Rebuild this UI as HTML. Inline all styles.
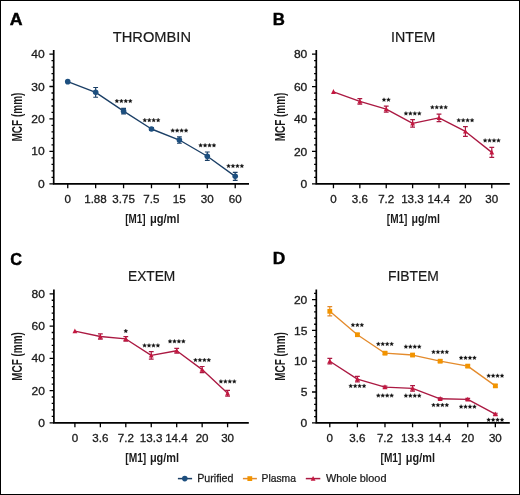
<!DOCTYPE html>
<html><head><meta charset="utf-8"><style>
html,body{margin:0;padding:0;background:#fff;}
body{width:520px;height:495px;overflow:hidden;}
svg{display:block;will-change:transform;}
text{font-family:"Liberation Sans", sans-serif;}
</style></head><body>
<svg width="520" height="495" viewBox="0 0 520 495">
<rect x="0.5" y="0.5" width="519" height="494" fill="#fff" stroke="#000" stroke-width="1"/>
<path d="M53.7 50.0V184.60000000000002M52.900000000000006 183.8H249.0" stroke="#000" stroke-width="1.7" fill="none"/>
<path d="M49.40 183.80H53.7M51.50 177.31H53.7M51.50 170.83H53.7M51.50 164.34H53.7M51.50 157.86H53.7M49.40 151.38H53.7M51.50 144.89H53.7M51.50 138.41H53.7M51.50 131.92H53.7M51.50 125.44H53.7M49.40 118.95H53.7M51.50 112.47H53.7M51.50 105.98H53.7M51.50 99.49H53.7M51.50 93.01H53.7M49.40 86.52H53.7M51.50 80.04H53.7M51.50 73.55H53.7M51.50 67.07H53.7M51.50 60.58H53.7M49.40 54.10H53.7M67.75 183.8V188.20M95.66 183.8V188.20M123.57 183.8V188.20M151.48 183.8V188.20M179.39 183.8V188.20M207.30 183.8V188.20M235.21 183.8V188.20" stroke="#000" stroke-width="1.3" fill="none"/>
<text transform="translate(38.01 187.90) scale(1.0400 1)" font-size="11.6" fill="#1a1a1a" stroke="#1a1a1a" stroke-width="0.3">0</text>
<text transform="translate(31.30 155.47) scale(1.0400 1)" font-size="11.6" fill="#1a1a1a" stroke="#1a1a1a" stroke-width="0.3">10</text>
<text transform="translate(31.30 123.05) scale(1.0400 1)" font-size="11.6" fill="#1a1a1a" stroke="#1a1a1a" stroke-width="0.3">20</text>
<text transform="translate(31.30 90.62) scale(1.0400 1)" font-size="11.6" fill="#1a1a1a" stroke="#1a1a1a" stroke-width="0.3">30</text>
<text transform="translate(31.30 58.20) scale(1.0400 1)" font-size="11.6" fill="#1a1a1a" stroke="#1a1a1a" stroke-width="0.3">40</text>
<text transform="translate(64.52 203.20) scale(1.0000 1)" font-size="11.6" fill="#1a1a1a" stroke="#1a1a1a" stroke-width="0.3">0</text>
<text transform="translate(84.18 203.20) scale(1.0000 1)" font-size="11.6" fill="#1a1a1a" stroke="#1a1a1a" stroke-width="0.3">1.88</text>
<text transform="translate(112.30 203.20) scale(1.0000 1)" font-size="11.6" fill="#1a1a1a" stroke="#1a1a1a" stroke-width="0.3">3.75</text>
<text transform="translate(143.36 203.20) scale(1.0000 1)" font-size="11.6" fill="#1a1a1a" stroke="#1a1a1a" stroke-width="0.3">7.5</text>
<text transform="translate(172.74 203.20) scale(1.0000 1)" font-size="11.6" fill="#1a1a1a" stroke="#1a1a1a" stroke-width="0.3">15</text>
<text transform="translate(200.85 203.20) scale(1.0000 1)" font-size="11.6" fill="#1a1a1a" stroke="#1a1a1a" stroke-width="0.3">30</text>
<text transform="translate(228.69 203.20) scale(1.0000 1)" font-size="11.6" fill="#1a1a1a" stroke="#1a1a1a" stroke-width="0.3">60</text>
<text transform="translate(112.82 41.75) scale(1.0047 1)" font-size="14.6" fill="#1a1a1a" stroke="#1a1a1a" stroke-width="0.2">THROMBIN</text>
<text transform="translate(9.83 24.80) scale(1.0194 1)" font-size="17.4" font-weight="bold" fill="#000" stroke="#000" stroke-width="0.45">A</text>
<text transform="translate(22.30 141.47) rotate(-90) scale(0.6894 1)" font-size="14.5" font-weight="bold" fill="#1a1a1a">MCF (mm)</text>
<text transform="translate(125.25 222.70) scale(0.7430 1)" font-size="13.3" font-weight="bold" fill="#1a1a1a">[M1]</text>
<text transform="translate(149.92 222.70) scale(0.8363 1)" font-size="13.3" font-weight="bold" fill="#1a1a1a">μg/ml</text>
<polyline points="67.75,81.66 95.66,92.36 123.57,111.17 151.48,129.00 179.39,140.03 207.30,156.24 235.21,176.34" fill="none" stroke="#1b3f66" stroke-width="1.35" stroke-linejoin="round"/>
<path d="M95.66 87.50V97.23M93.26 87.50H98.06M93.26 97.23H98.06M123.57 108.41V113.92M121.17 108.41H125.97M121.17 113.92H125.97M151.48 127.70V130.30M149.08 127.70H153.88M149.08 130.30H153.88M179.39 136.78V143.27M176.99 136.78H181.79M176.99 143.27H181.79M207.30 152.02V160.45M204.90 152.02H209.70M204.90 160.45H209.70M235.21 172.29V180.40M232.81 172.29H237.61M232.81 180.40H237.61" stroke="#1b3f66" stroke-width="1.2" fill="none"/>
<circle cx="67.75" cy="81.66" r="2.8" fill="#1d4f7f"/>
<circle cx="95.66" cy="92.36" r="2.8" fill="#1d4f7f"/>
<circle cx="123.57" cy="111.17" r="2.8" fill="#1d4f7f"/>
<circle cx="151.48" cy="129.00" r="2.8" fill="#1d4f7f"/>
<circle cx="179.39" cy="140.03" r="2.8" fill="#1d4f7f"/>
<circle cx="207.30" cy="156.24" r="2.8" fill="#1d4f7f"/>
<circle cx="235.21" cy="176.34" r="2.8" fill="#1d4f7f"/>
<path d="M116.89 99.00L117.48 100.29L118.89 100.45L117.84 101.41L118.12 102.80L116.89 102.10L115.66 102.80L115.94 101.41L114.89 100.45L116.30 100.29ZM121.34 99.00L121.94 100.29L123.34 100.45L122.30 101.41L122.58 102.80L121.34 102.10L120.11 102.80L120.39 101.41L119.34 100.45L120.75 100.29ZM125.80 99.00L126.39 100.29L127.80 100.45L126.75 101.41L127.03 102.80L125.80 102.10L124.56 102.80L124.84 101.41L123.80 100.45L125.20 100.29ZM130.25 99.00L130.84 100.29L132.25 100.45L131.19 101.41L131.47 102.80L130.25 102.10L129.02 102.80L129.30 101.41L128.25 100.45L129.66 100.29Z" fill="#111" stroke="#111" stroke-width="0.3"/>
<path d="M144.81 118.10L145.40 119.39L146.81 119.55L145.75 120.51L146.03 121.90L144.81 121.20L143.58 121.90L143.86 120.51L142.81 119.55L144.22 119.39ZM149.25 118.10L149.84 119.39L151.25 119.55L150.20 120.51L150.48 121.90L149.25 121.20L148.03 121.90L148.31 120.51L147.25 119.55L148.66 119.39ZM153.71 118.10L154.30 119.39L155.71 119.55L154.66 120.51L154.94 121.90L153.71 121.20L152.48 121.90L152.76 120.51L151.71 119.55L153.12 119.39ZM158.16 118.10L158.75 119.39L160.16 119.55L159.10 120.51L159.38 121.90L158.16 121.20L156.93 121.90L157.21 120.51L156.16 119.55L157.56 119.39Z" fill="#111" stroke="#111" stroke-width="0.3"/>
<path d="M172.71 128.50L173.30 129.79L174.71 129.95L173.66 130.91L173.94 132.30L172.71 131.60L171.48 132.30L171.76 130.91L170.71 129.95L172.12 129.79ZM177.16 128.50L177.75 129.79L179.16 129.95L178.11 130.91L178.39 132.30L177.16 131.60L175.93 132.30L176.21 130.91L175.16 129.95L176.57 129.79ZM181.61 128.50L182.20 129.79L183.61 129.95L182.56 130.91L182.84 132.30L181.61 131.60L180.38 132.30L180.66 130.91L179.61 129.95L181.02 129.79ZM186.06 128.50L186.65 129.79L188.06 129.95L187.01 130.91L187.29 132.30L186.06 131.60L184.83 132.30L185.11 130.91L184.06 129.95L185.47 129.79Z" fill="#111" stroke="#111" stroke-width="0.3"/>
<path d="M200.62 143.30L201.22 144.59L202.62 144.75L201.57 145.71L201.85 147.10L200.62 146.40L199.40 147.10L199.68 145.71L198.62 144.75L200.03 144.59ZM205.07 143.30L205.66 144.59L207.07 144.75L206.02 145.71L206.30 147.10L205.07 146.40L203.84 147.10L204.12 145.71L203.07 144.75L204.48 144.59ZM209.53 143.30L210.12 144.59L211.53 144.75L210.47 145.71L210.75 147.10L209.53 146.40L208.30 147.10L208.58 145.71L207.53 144.75L208.94 144.59ZM213.97 143.30L214.56 144.59L215.97 144.75L214.92 145.71L215.20 147.10L213.97 146.40L212.75 147.10L213.03 145.71L211.97 144.75L213.38 144.59Z" fill="#111" stroke="#111" stroke-width="0.3"/>
<path d="M228.53 163.90L229.12 165.19L230.53 165.35L229.48 166.31L229.76 167.70L228.53 167.00L227.31 167.70L227.59 166.31L226.53 165.35L227.94 165.19ZM232.98 163.90L233.57 165.19L234.98 165.35L233.93 166.31L234.21 167.70L232.98 167.00L231.75 167.70L232.03 166.31L230.98 165.35L232.39 165.19ZM237.44 163.90L238.03 165.19L239.44 165.35L238.38 166.31L238.66 167.70L237.44 167.00L236.21 167.70L236.49 166.31L235.44 165.35L236.84 165.19ZM241.88 163.90L242.47 165.19L243.88 165.35L242.83 166.31L243.11 167.70L241.88 167.00L240.66 167.70L240.94 166.31L239.88 165.35L241.29 165.19Z" fill="#111" stroke="#111" stroke-width="0.3"/>
<path d="M316.3 50.0V184.60000000000002M315.5 183.8H509.8" stroke="#000" stroke-width="1.7" fill="none"/>
<path d="M312.00 183.80H316.3M314.10 177.32H316.3M314.10 170.84H316.3M314.10 164.36H316.3M314.10 157.88H316.3M312.00 151.40H316.3M314.10 144.92H316.3M314.10 138.44H316.3M314.10 131.96H316.3M314.10 125.48H316.3M312.00 119.00H316.3M314.10 112.52H316.3M314.10 106.04H316.3M314.10 99.56H316.3M314.10 93.08H316.3M312.00 86.60H316.3M314.10 80.12H316.3M314.10 73.64H316.3M314.10 67.16H316.3M314.10 60.68H316.3M312.00 54.20H316.3M333.45 183.8V188.20M359.84 183.8V188.20M386.23 183.8V188.20M412.62 183.8V188.20M439.01 183.8V188.20M465.40 183.8V188.20M491.79 183.8V188.20" stroke="#000" stroke-width="1.3" fill="none"/>
<text transform="translate(300.61 187.90) scale(1.0400 1)" font-size="11.6" fill="#1a1a1a" stroke="#1a1a1a" stroke-width="0.3">0</text>
<text transform="translate(293.90 155.50) scale(1.0400 1)" font-size="11.6" fill="#1a1a1a" stroke="#1a1a1a" stroke-width="0.3">20</text>
<text transform="translate(293.90 123.10) scale(1.0400 1)" font-size="11.6" fill="#1a1a1a" stroke="#1a1a1a" stroke-width="0.3">40</text>
<text transform="translate(293.90 90.70) scale(1.0400 1)" font-size="11.6" fill="#1a1a1a" stroke="#1a1a1a" stroke-width="0.3">60</text>
<text transform="translate(293.90 58.30) scale(1.0400 1)" font-size="11.6" fill="#1a1a1a" stroke="#1a1a1a" stroke-width="0.3">80</text>
<text transform="translate(330.22 203.20) scale(1.0000 1)" font-size="11.6" fill="#1a1a1a" stroke="#1a1a1a" stroke-width="0.3">0</text>
<text transform="translate(351.81 203.20) scale(1.0000 1)" font-size="11.6" fill="#1a1a1a" stroke="#1a1a1a" stroke-width="0.3">3.6</text>
<text transform="translate(378.16 203.20) scale(1.0000 1)" font-size="11.6" fill="#1a1a1a" stroke="#1a1a1a" stroke-width="0.3">7.2</text>
<text transform="translate(401.14 203.20) scale(1.0000 1)" font-size="11.6" fill="#1a1a1a" stroke="#1a1a1a" stroke-width="0.3">13.3</text>
<text transform="translate(427.45 203.20) scale(1.0000 1)" font-size="11.6" fill="#1a1a1a" stroke="#1a1a1a" stroke-width="0.3">14.4</text>
<text transform="translate(458.88 203.20) scale(1.0000 1)" font-size="11.6" fill="#1a1a1a" stroke="#1a1a1a" stroke-width="0.3">20</text>
<text transform="translate(485.34 203.20) scale(1.0000 1)" font-size="11.6" fill="#1a1a1a" stroke="#1a1a1a" stroke-width="0.3">30</text>
<text transform="translate(390.99 41.70) scale(0.9750 1)" font-size="14.6" fill="#1a1a1a" stroke="#1a1a1a" stroke-width="0.2">INTEM</text>
<text transform="translate(272.80 24.70) scale(0.9659 1)" font-size="17.4" font-weight="bold" fill="#000" stroke="#000" stroke-width="0.45">B</text>
<text transform="translate(284.60 141.37) rotate(-90) scale(0.6880 1)" font-size="14.5" font-weight="bold" fill="#1a1a1a">MCF (mm)</text>
<text transform="translate(386.84 222.70) scale(0.7546 1)" font-size="13.3" font-weight="bold" fill="#1a1a1a">[M1]</text>
<text transform="translate(411.55 222.70) scale(0.8006 1)" font-size="13.3" font-weight="bold" fill="#1a1a1a">μg/ml</text>
<polyline points="333.45,91.78 359.84,101.34 386.23,109.12 412.62,123.37 439.01,117.87 465.40,131.47 491.79,152.37" fill="none" stroke="#ab1942" stroke-width="1.35" stroke-linejoin="round"/>
<path d="M359.84 98.59V104.10M357.44 98.59H362.24M357.44 104.10H362.24M386.23 106.04V112.20M383.83 106.04H388.63M383.83 112.20H388.63M412.62 119.65V127.10M410.22 119.65H415.02M410.22 127.10H415.02M439.01 114.14V121.59M436.61 114.14H441.41M436.61 121.59H441.41M465.40 126.61V136.33M463.00 126.61H467.80M463.00 136.33H467.80M491.79 147.35V157.39M489.39 147.35H494.19M489.39 157.39H494.19" stroke="#ab1942" stroke-width="1.2" fill="none"/>
<path d="M333.45 89.08L335.85 93.88H331.05Z" fill="#c4173f"/>
<path d="M359.84 98.64L362.24 103.44H357.44Z" fill="#c4173f"/>
<path d="M386.23 106.42L388.63 111.22H383.83Z" fill="#c4173f"/>
<path d="M412.62 120.67L415.02 125.47H410.22Z" fill="#c4173f"/>
<path d="M439.01 115.17L441.41 119.97H436.61Z" fill="#c4173f"/>
<path d="M465.40 128.77L467.80 133.57H463.00Z" fill="#c4173f"/>
<path d="M491.79 149.67L494.19 154.47H489.39Z" fill="#c4173f"/>
<path d="M384.00 97.70L384.59 98.99L386.00 99.15L384.95 100.11L385.24 101.50L384.00 100.80L382.77 101.50L383.06 100.11L382.00 99.15L383.42 98.99ZM388.45 97.70L389.04 98.99L390.45 99.15L389.40 100.11L389.69 101.50L388.45 100.80L387.22 101.50L387.50 100.11L386.45 99.15L387.87 98.99Z" fill="#111" stroke="#111" stroke-width="0.3"/>
<path d="M405.94 111.40L406.53 112.69L407.94 112.85L406.89 113.81L407.18 115.20L405.94 114.50L404.71 115.20L405.00 113.81L403.94 112.85L405.36 112.69ZM410.39 111.40L410.98 112.69L412.39 112.85L411.34 113.81L411.62 115.20L410.39 114.50L409.16 115.20L409.44 113.81L408.39 112.85L409.81 112.69ZM414.84 111.40L415.43 112.69L416.84 112.85L415.79 113.81L416.07 115.20L414.84 114.50L413.61 115.20L413.89 113.81L412.84 112.85L414.25 112.69ZM419.30 111.40L419.88 112.69L421.30 112.85L420.25 113.81L420.53 115.20L419.30 114.50L418.06 115.20L418.35 113.81L417.30 112.85L418.71 112.69Z" fill="#111" stroke="#111" stroke-width="0.3"/>
<path d="M432.33 105.20L432.92 106.49L434.33 106.65L433.28 107.61L433.56 109.00L432.33 108.30L431.10 109.00L431.38 107.61L430.33 106.65L431.75 106.49ZM436.78 105.20L437.37 106.49L438.78 106.65L437.73 107.61L438.01 109.00L436.78 108.30L435.55 109.00L435.83 107.61L434.78 106.65L436.19 106.49ZM441.23 105.20L441.82 106.49L443.23 106.65L442.18 107.61L442.46 109.00L441.23 108.30L440.00 109.00L440.28 107.61L439.23 106.65L440.64 106.49ZM445.69 105.20L446.27 106.49L447.69 106.65L446.63 107.61L446.92 109.00L445.69 108.30L444.45 109.00L444.74 107.61L443.69 106.65L445.10 106.49Z" fill="#111" stroke="#111" stroke-width="0.3"/>
<path d="M458.72 118.20L459.31 119.49L460.72 119.65L459.67 120.61L459.95 122.00L458.72 121.30L457.49 122.00L457.77 120.61L456.72 119.65L458.13 119.49ZM463.17 118.20L463.76 119.49L465.17 119.65L464.12 120.61L464.40 122.00L463.17 121.30L461.94 122.00L462.22 120.61L461.17 119.65L462.58 119.49ZM467.62 118.20L468.21 119.49L469.62 119.65L468.57 120.61L468.85 122.00L467.62 121.30L466.39 122.00L466.67 120.61L465.62 119.65L467.03 119.49ZM472.07 118.20L472.66 119.49L474.07 119.65L473.02 120.61L473.31 122.00L472.07 121.30L470.84 122.00L471.12 120.61L470.07 119.65L471.49 119.49Z" fill="#111" stroke="#111" stroke-width="0.3"/>
<path d="M485.11 138.40L485.70 139.69L487.11 139.85L486.06 140.81L486.34 142.20L485.11 141.50L483.88 142.20L484.16 140.81L483.11 139.85L484.52 139.69ZM489.56 138.40L490.15 139.69L491.56 139.85L490.51 140.81L490.79 142.20L489.56 141.50L488.33 142.20L488.61 140.81L487.56 139.85L488.97 139.69ZM494.01 138.40L494.60 139.69L496.01 139.85L494.96 140.81L495.24 142.20L494.01 141.50L492.78 142.20L493.06 140.81L492.01 139.85L493.42 139.69ZM498.46 138.40L499.05 139.69L500.46 139.85L499.41 140.81L499.69 142.20L498.46 141.50L497.23 142.20L497.51 140.81L496.46 139.85L497.88 139.69Z" fill="#111" stroke="#111" stroke-width="0.3"/>
<path d="M53.9 289.5V423.6M53.1 422.8H248.8" stroke="#000" stroke-width="1.7" fill="none"/>
<path d="M49.60 422.80H53.9M51.70 416.35H53.9M51.70 409.90H53.9M51.70 403.45H53.9M51.70 397.00H53.9M49.60 390.55H53.9M51.70 384.10H53.9M51.70 377.65H53.9M51.70 371.20H53.9M51.70 364.75H53.9M49.60 358.30H53.9M51.70 351.85H53.9M51.70 345.40H53.9M51.70 338.95H53.9M51.70 332.50H53.9M49.60 326.05H53.9M51.70 319.60H53.9M51.70 313.15H53.9M51.70 306.70H53.9M51.70 300.25H53.9M49.60 293.80H53.9M74.90 422.8V427.20M100.35 422.8V427.20M125.80 422.8V427.20M151.25 422.8V427.20M176.70 422.8V427.20M202.15 422.8V427.20M227.60 422.8V427.20" stroke="#000" stroke-width="1.3" fill="none"/>
<text transform="translate(38.21 426.90) scale(1.0400 1)" font-size="11.6" fill="#1a1a1a" stroke="#1a1a1a" stroke-width="0.3">0</text>
<text transform="translate(31.50 394.65) scale(1.0400 1)" font-size="11.6" fill="#1a1a1a" stroke="#1a1a1a" stroke-width="0.3">20</text>
<text transform="translate(31.50 362.40) scale(1.0400 1)" font-size="11.6" fill="#1a1a1a" stroke="#1a1a1a" stroke-width="0.3">40</text>
<text transform="translate(31.50 330.15) scale(1.0400 1)" font-size="11.6" fill="#1a1a1a" stroke="#1a1a1a" stroke-width="0.3">60</text>
<text transform="translate(31.50 297.90) scale(1.0400 1)" font-size="11.6" fill="#1a1a1a" stroke="#1a1a1a" stroke-width="0.3">80</text>
<text transform="translate(71.67 442.20) scale(1.0000 1)" font-size="11.6" fill="#1a1a1a" stroke="#1a1a1a" stroke-width="0.3">0</text>
<text transform="translate(92.32 442.20) scale(1.0000 1)" font-size="11.6" fill="#1a1a1a" stroke="#1a1a1a" stroke-width="0.3">3.6</text>
<text transform="translate(117.73 442.20) scale(1.0000 1)" font-size="11.6" fill="#1a1a1a" stroke="#1a1a1a" stroke-width="0.3">7.2</text>
<text transform="translate(139.77 442.20) scale(1.0000 1)" font-size="11.6" fill="#1a1a1a" stroke="#1a1a1a" stroke-width="0.3">13.3</text>
<text transform="translate(165.14 442.20) scale(1.0000 1)" font-size="11.6" fill="#1a1a1a" stroke="#1a1a1a" stroke-width="0.3">14.4</text>
<text transform="translate(195.63 442.20) scale(1.0000 1)" font-size="11.6" fill="#1a1a1a" stroke="#1a1a1a" stroke-width="0.3">20</text>
<text transform="translate(221.15 442.20) scale(1.0000 1)" font-size="11.6" fill="#1a1a1a" stroke="#1a1a1a" stroke-width="0.3">30</text>
<text transform="translate(127.97 281.15) scale(0.9416 1)" font-size="14.6" fill="#1a1a1a" stroke="#1a1a1a" stroke-width="0.2">EXTEM</text>
<text transform="translate(10.36 264.50) scale(0.9362 1)" font-size="17.4" font-weight="bold" fill="#000" stroke="#000" stroke-width="0.45">C</text>
<text transform="translate(22.30 380.77) rotate(-90) scale(0.6865 1)" font-size="14.5" font-weight="bold" fill="#1a1a1a">MCF (mm)</text>
<text transform="translate(125.22 462.20) scale(0.7701 1)" font-size="13.3" font-weight="bold" fill="#1a1a1a">[M1]</text>
<text transform="translate(149.93 462.20) scale(0.8214 1)" font-size="13.3" font-weight="bold" fill="#1a1a1a">μg/ml</text>
<polyline points="74.90,331.21 100.35,336.53 125.80,338.95 151.25,355.40 176.70,350.72 202.15,369.59 227.60,393.29" fill="none" stroke="#ab1942" stroke-width="1.35" stroke-linejoin="round"/>
<path d="M100.35 333.95V339.11M97.95 333.95H102.75M97.95 339.11H102.75M125.80 336.69V341.21M123.40 336.69H128.20M123.40 341.21H128.20M151.25 351.69V359.11M148.85 351.69H153.65M148.85 359.11H153.65M176.70 348.30V353.14M174.30 348.30H179.10M174.30 353.14H179.10M202.15 366.52V372.65M199.75 366.52H204.55M199.75 372.65H204.55M227.60 390.39V396.19M225.20 390.39H230.00M225.20 396.19H230.00" stroke="#ab1942" stroke-width="1.2" fill="none"/>
<path d="M74.90 328.51L77.30 333.31H72.50Z" fill="#c4173f"/>
<path d="M100.35 333.83L102.75 338.63H97.95Z" fill="#c4173f"/>
<path d="M125.80 336.25L128.20 341.05H123.40Z" fill="#c4173f"/>
<path d="M151.25 352.70L153.65 357.50H148.85Z" fill="#c4173f"/>
<path d="M176.70 348.02L179.10 352.82H174.30Z" fill="#c4173f"/>
<path d="M202.15 366.89L204.55 371.69H199.75Z" fill="#c4173f"/>
<path d="M227.60 390.59L230.00 395.39H225.20Z" fill="#c4173f"/>
<path d="M125.80 329.00L126.39 330.29L127.80 330.45L126.75 331.41L127.03 332.80L125.80 332.10L124.57 332.80L124.85 331.41L123.80 330.45L125.21 330.29Z" fill="#111" stroke="#111" stroke-width="0.3"/>
<path d="M144.57 343.40L145.16 344.69L146.57 344.85L145.52 345.81L145.80 347.20L144.57 346.50L143.34 347.20L143.62 345.81L142.57 344.85L143.98 344.69ZM149.02 343.40L149.61 344.69L151.02 344.85L149.97 345.81L150.25 347.20L149.02 346.50L147.79 347.20L148.07 345.81L147.02 344.85L148.43 344.69ZM153.47 343.40L154.06 344.69L155.47 344.85L154.42 345.81L154.70 347.20L153.47 346.50L152.25 347.20L152.53 345.81L151.47 344.85L152.88 344.69ZM157.92 343.40L158.51 344.69L159.92 344.85L158.87 345.81L159.15 347.20L157.92 346.50L156.69 347.20L156.97 345.81L155.92 344.85L157.33 344.69Z" fill="#111" stroke="#111" stroke-width="0.3"/>
<path d="M170.02 339.30L170.61 340.59L172.02 340.75L170.97 341.71L171.25 343.10L170.02 342.40L168.79 343.10L169.07 341.71L168.02 340.75L169.43 340.59ZM174.47 339.30L175.06 340.59L176.47 340.75L175.42 341.71L175.70 343.10L174.47 342.40L173.24 343.10L173.52 341.71L172.47 340.75L173.88 340.59ZM178.92 339.30L179.51 340.59L180.92 340.75L179.87 341.71L180.15 343.10L178.92 342.40L177.69 343.10L177.97 341.71L176.92 340.75L178.33 340.59ZM183.37 339.30L183.96 340.59L185.37 340.75L184.32 341.71L184.60 343.10L183.37 342.40L182.14 343.10L182.42 341.71L181.37 340.75L182.78 340.59Z" fill="#111" stroke="#111" stroke-width="0.3"/>
<path d="M195.47 358.00L196.06 359.29L197.47 359.45L196.42 360.41L196.70 361.80L195.47 361.10L194.25 361.80L194.53 360.41L193.47 359.45L194.88 359.29ZM199.92 358.00L200.51 359.29L201.92 359.45L200.87 360.41L201.15 361.80L199.92 361.10L198.69 361.80L198.97 360.41L197.92 359.45L199.33 359.29ZM204.38 358.00L204.97 359.29L206.38 359.45L205.32 360.41L205.60 361.80L204.38 361.10L203.15 361.80L203.43 360.41L202.38 359.45L203.78 359.29ZM208.82 358.00L209.41 359.29L210.82 359.45L209.77 360.41L210.05 361.80L208.82 361.10L207.59 361.80L207.88 360.41L206.82 359.45L208.23 359.29Z" fill="#111" stroke="#111" stroke-width="0.3"/>
<path d="M220.92 379.40L221.51 380.69L222.92 380.85L221.87 381.81L222.15 383.20L220.92 382.50L219.69 383.20L219.97 381.81L218.92 380.85L220.33 380.69ZM225.37 379.40L225.96 380.69L227.37 380.85L226.32 381.81L226.60 383.20L225.37 382.50L224.14 383.20L224.42 381.81L223.37 380.85L224.78 380.69ZM229.82 379.40L230.41 380.69L231.82 380.85L230.77 381.81L231.05 383.20L229.82 382.50L228.59 383.20L228.88 381.81L227.82 380.85L229.23 380.69ZM234.27 379.40L234.86 380.69L236.27 380.85L235.22 381.81L235.50 383.20L234.27 382.50L233.04 383.20L233.32 381.81L232.27 380.85L233.68 380.69Z" fill="#111" stroke="#111" stroke-width="0.3"/>
<path d="M316.3 289.5V423.6M315.5 422.8H509.8" stroke="#000" stroke-width="1.7" fill="none"/>
<path d="M312.00 422.80H316.3M314.10 416.64H316.3M314.10 410.48H316.3M314.10 404.32H316.3M314.10 398.16H316.3M312.00 392.00H316.3M314.10 385.84H316.3M314.10 379.68H316.3M314.10 373.52H316.3M314.10 367.36H316.3M312.00 361.20H316.3M314.10 355.04H316.3M314.10 348.88H316.3M314.10 342.72H316.3M314.10 336.56H316.3M312.00 330.40H316.3M314.10 324.24H316.3M314.10 318.08H316.3M314.10 311.92H316.3M314.10 305.76H316.3M312.00 299.60H316.3M314.10 293.44H316.3M329.80 422.8V427.20M357.39 422.8V427.20M384.98 422.8V427.20M412.57 422.8V427.20M440.16 422.8V427.20M467.75 422.8V427.20M495.34 422.8V427.20" stroke="#000" stroke-width="1.3" fill="none"/>
<text transform="translate(300.61 426.90) scale(1.0400 1)" font-size="11.6" fill="#1a1a1a" stroke="#1a1a1a" stroke-width="0.3">0</text>
<text transform="translate(300.65 396.10) scale(1.0400 1)" font-size="11.6" fill="#1a1a1a" stroke="#1a1a1a" stroke-width="0.3">5</text>
<text transform="translate(293.90 365.30) scale(1.0400 1)" font-size="11.6" fill="#1a1a1a" stroke="#1a1a1a" stroke-width="0.3">10</text>
<text transform="translate(293.94 334.50) scale(1.0400 1)" font-size="11.6" fill="#1a1a1a" stroke="#1a1a1a" stroke-width="0.3">15</text>
<text transform="translate(293.90 303.70) scale(1.0400 1)" font-size="11.6" fill="#1a1a1a" stroke="#1a1a1a" stroke-width="0.3">20</text>
<text transform="translate(326.57 442.20) scale(1.0000 1)" font-size="11.6" fill="#1a1a1a" stroke="#1a1a1a" stroke-width="0.3">0</text>
<text transform="translate(349.36 442.20) scale(1.0000 1)" font-size="11.6" fill="#1a1a1a" stroke="#1a1a1a" stroke-width="0.3">3.6</text>
<text transform="translate(376.91 442.20) scale(1.0000 1)" font-size="11.6" fill="#1a1a1a" stroke="#1a1a1a" stroke-width="0.3">7.2</text>
<text transform="translate(401.09 442.20) scale(1.0000 1)" font-size="11.6" fill="#1a1a1a" stroke="#1a1a1a" stroke-width="0.3">13.3</text>
<text transform="translate(428.60 442.20) scale(1.0000 1)" font-size="11.6" fill="#1a1a1a" stroke="#1a1a1a" stroke-width="0.3">14.4</text>
<text transform="translate(461.23 442.20) scale(1.0000 1)" font-size="11.6" fill="#1a1a1a" stroke="#1a1a1a" stroke-width="0.3">20</text>
<text transform="translate(488.89 442.20) scale(1.0000 1)" font-size="11.6" fill="#1a1a1a" stroke="#1a1a1a" stroke-width="0.3">30</text>
<text transform="translate(387.96 281.20) scale(0.9504 1)" font-size="14.6" fill="#1a1a1a" stroke="#1a1a1a" stroke-width="0.2">FIBTEM</text>
<text transform="translate(272.86 264.40) scale(0.9980 1)" font-size="17.4" font-weight="bold" fill="#000" stroke="#000" stroke-width="0.45">D</text>
<text transform="translate(284.60 380.77) rotate(-90) scale(0.6865 1)" font-size="14.5" font-weight="bold" fill="#1a1a1a">MCF (mm)</text>
<text transform="translate(380.53 462.20) scale(0.7624 1)" font-size="13.3" font-weight="bold" fill="#1a1a1a">[M1]</text>
<text transform="translate(405.83 462.20) scale(0.8214 1)" font-size="13.3" font-weight="bold" fill="#1a1a1a">μg/ml</text>
<polyline points="329.80,311.30 357.39,334.71 384.98,353.19 412.57,355.04 440.16,361.20 467.75,366.13 495.34,385.84" fill="none" stroke="#e48b2c" stroke-width="1.35" stroke-linejoin="round"/>
<path d="M329.80 306.68V315.92M327.40 306.68H332.20M327.40 315.92H332.20M357.39 333.48V335.94M354.99 333.48H359.79M354.99 335.94H359.79M384.98 351.96V354.42M382.58 351.96H387.38M382.58 354.42H387.38M412.57 353.81V356.27M410.17 353.81H414.97M410.17 356.27H414.97M440.16 359.97V362.43M437.76 359.97H442.56M437.76 362.43H442.56M467.75 364.90V367.36M465.35 364.90H470.15M465.35 367.36H470.15M495.34 384.61V387.07M492.94 384.61H497.74M492.94 387.07H497.74" stroke="#e48b2c" stroke-width="1.2" fill="none"/>
<rect x="327.40" y="308.90" width="4.8" height="4.8" fill="#f29400"/>
<rect x="354.99" y="332.31" width="4.8" height="4.8" fill="#f29400"/>
<rect x="382.58" y="350.79" width="4.8" height="4.8" fill="#f29400"/>
<rect x="410.17" y="352.64" width="4.8" height="4.8" fill="#f29400"/>
<rect x="437.76" y="358.80" width="4.8" height="4.8" fill="#f29400"/>
<rect x="465.35" y="363.73" width="4.8" height="4.8" fill="#f29400"/>
<rect x="492.94" y="383.44" width="4.8" height="4.8" fill="#f29400"/>
<path d="M352.94 322.90L353.53 324.19L354.94 324.35L353.89 325.31L354.17 326.70L352.94 326.00L351.71 326.70L351.99 325.31L350.94 324.35L352.35 324.19ZM357.39 322.90L357.98 324.19L359.39 324.35L358.34 325.31L358.62 326.70L357.39 326.00L356.16 326.70L356.44 325.31L355.39 324.35L356.80 324.19ZM361.84 322.90L362.43 324.19L363.84 324.35L362.79 325.31L363.07 326.70L361.84 326.00L360.61 326.70L360.89 325.31L359.84 324.35L361.25 324.19Z" fill="#111" stroke="#111" stroke-width="0.3"/>
<path d="M378.31 341.90L378.89 343.19L380.31 343.35L379.25 344.31L379.54 345.70L378.31 345.00L377.07 345.70L377.36 344.31L376.31 343.35L377.72 343.19ZM382.75 341.90L383.34 343.19L384.75 343.35L383.70 344.31L383.99 345.70L382.75 345.00L381.52 345.70L381.81 344.31L380.75 343.35L382.17 343.19ZM387.20 341.90L387.79 343.19L389.20 343.35L388.15 344.31L388.44 345.70L387.20 345.00L385.97 345.70L386.25 344.31L385.20 343.35L386.62 343.19ZM391.66 341.90L392.25 343.19L393.66 343.35L392.61 344.31L392.89 345.70L391.66 345.00L390.43 345.70L390.71 344.31L389.66 343.35L391.07 343.19Z" fill="#111" stroke="#111" stroke-width="0.3"/>
<path d="M405.89 344.60L406.48 345.89L407.89 346.05L406.84 347.01L407.12 348.40L405.89 347.70L404.66 348.40L404.94 347.01L403.89 346.05L405.31 345.89ZM410.34 344.60L410.93 345.89L412.34 346.05L411.29 347.01L411.57 348.40L410.34 347.70L409.11 348.40L409.39 347.01L408.34 346.05L409.75 345.89ZM414.79 344.60L415.38 345.89L416.79 346.05L415.74 347.01L416.02 348.40L414.79 347.70L413.56 348.40L413.84 347.01L412.79 346.05L414.20 345.89ZM419.25 344.60L419.83 345.89L421.25 346.05L420.19 347.01L420.48 348.40L419.25 347.70L418.01 348.40L418.30 347.01L417.25 346.05L418.66 345.89Z" fill="#111" stroke="#111" stroke-width="0.3"/>
<path d="M433.49 349.90L434.07 351.19L435.49 351.35L434.44 352.31L434.72 353.70L433.49 353.00L432.25 353.70L432.54 352.31L431.49 351.35L432.90 351.19ZM437.94 349.90L438.52 351.19L439.94 351.35L438.88 352.31L439.17 353.70L437.94 353.00L436.70 353.70L436.99 352.31L435.94 351.35L437.35 351.19ZM442.38 349.90L442.97 351.19L444.38 351.35L443.33 352.31L443.62 353.70L442.38 353.00L441.15 353.70L441.44 352.31L440.38 351.35L441.80 351.19ZM446.84 349.90L447.43 351.19L448.84 351.35L447.79 352.31L448.07 353.70L446.84 353.00L445.61 353.70L445.89 352.31L444.84 351.35L446.25 351.19Z" fill="#111" stroke="#111" stroke-width="0.3"/>
<path d="M461.07 355.80L461.66 357.09L463.07 357.25L462.02 358.21L462.31 359.60L461.07 358.90L459.84 359.60L460.12 358.21L459.07 357.25L460.49 357.09ZM465.52 355.80L466.11 357.09L467.52 357.25L466.47 358.21L466.75 359.60L465.52 358.90L464.29 359.60L464.57 358.21L463.52 357.25L464.94 357.09ZM469.97 355.80L470.56 357.09L471.97 357.25L470.92 358.21L471.20 359.60L469.97 358.90L468.74 359.60L469.02 358.21L467.97 357.25L469.38 357.09ZM474.43 355.80L475.01 357.09L476.43 357.25L475.38 358.21L475.66 359.60L474.43 358.90L473.19 359.60L473.48 358.21L472.43 357.25L473.84 357.09Z" fill="#111" stroke="#111" stroke-width="0.3"/>
<path d="M488.67 373.70L489.25 374.99L490.67 375.15L489.62 376.11L489.90 377.50L488.67 376.80L487.44 377.50L487.72 376.11L486.67 375.15L488.08 374.99ZM493.12 373.70L493.70 374.99L495.12 375.15L494.06 376.11L494.35 377.50L493.12 376.80L491.88 377.50L492.17 376.11L491.12 375.15L492.53 374.99ZM497.56 373.70L498.15 374.99L499.56 375.15L498.51 376.11L498.80 377.50L497.56 376.80L496.33 377.50L496.62 376.11L495.56 375.15L496.98 374.99ZM502.02 373.70L502.61 374.99L504.02 375.15L502.97 376.11L503.25 377.50L502.02 376.80L500.79 377.50L501.07 376.11L500.02 375.15L501.43 374.99Z" fill="#111" stroke="#111" stroke-width="0.3"/>
<polyline points="329.80,361.20 357.39,379.06 384.98,387.07 412.57,388.30 440.16,398.78 467.75,399.39 495.34,414.18" fill="none" stroke="#ab1942" stroke-width="1.35" stroke-linejoin="round"/>
<path d="M329.80 358.43V363.97M327.40 358.43H332.20M327.40 363.97H332.20M357.39 376.29V381.84M354.99 376.29H359.79M354.99 381.84H359.79M384.98 386.15V388.00M382.58 386.15H387.38M382.58 388.00H387.38M412.57 385.53V391.08M410.17 385.53H414.97M410.17 391.08H414.97M440.16 397.85V399.70M437.76 397.85H442.56M437.76 399.70H442.56M467.75 398.47V400.32M465.35 398.47H470.15M465.35 400.32H470.15M495.34 413.25V415.10M492.94 413.25H497.74M492.94 415.10H497.74" stroke="#ab1942" stroke-width="1.2" fill="none"/>
<path d="M329.80 358.50L332.20 363.30H327.40Z" fill="#c4173f"/>
<path d="M357.39 376.36L359.79 381.16H354.99Z" fill="#c4173f"/>
<path d="M384.98 384.37L387.38 389.17H382.58Z" fill="#c4173f"/>
<path d="M412.57 385.60L414.97 390.40H410.17Z" fill="#c4173f"/>
<path d="M440.16 396.08L442.56 400.88H437.76Z" fill="#c4173f"/>
<path d="M467.75 396.69L470.15 401.49H465.35Z" fill="#c4173f"/>
<path d="M495.34 411.48L497.74 416.28H492.94Z" fill="#c4173f"/>
<path d="M350.71 383.90L351.30 385.19L352.71 385.35L351.66 386.31L351.94 387.70L350.71 387.00L349.48 387.70L349.76 386.31L348.71 385.35L350.12 385.19ZM355.16 383.90L355.75 385.19L357.16 385.35L356.11 386.31L356.39 387.70L355.16 387.00L353.93 387.70L354.21 386.31L353.16 385.35L354.57 385.19ZM359.61 383.90L360.20 385.19L361.61 385.35L360.56 386.31L360.84 387.70L359.61 387.00L358.38 387.70L358.66 386.31L357.61 385.35L359.02 385.19ZM364.06 383.90L364.65 385.19L366.06 385.35L365.01 386.31L365.30 387.70L364.06 387.00L362.83 387.70L363.12 386.31L362.06 385.35L363.48 385.19Z" fill="#111" stroke="#111" stroke-width="0.3"/>
<path d="M378.31 393.50L378.89 394.79L380.31 394.95L379.25 395.91L379.54 397.30L378.31 396.60L377.07 397.30L377.36 395.91L376.31 394.95L377.72 394.79ZM382.75 393.50L383.34 394.79L384.75 394.95L383.70 395.91L383.99 397.30L382.75 396.60L381.52 397.30L381.81 395.91L380.75 394.95L382.17 394.79ZM387.20 393.50L387.79 394.79L389.20 394.95L388.15 395.91L388.44 397.30L387.20 396.60L385.97 397.30L386.25 395.91L385.20 394.95L386.62 394.79ZM391.66 393.50L392.25 394.79L393.66 394.95L392.61 395.91L392.89 397.30L391.66 396.60L390.43 397.30L390.71 395.91L389.66 394.95L391.07 394.79Z" fill="#111" stroke="#111" stroke-width="0.3"/>
<path d="M405.89 393.60L406.48 394.89L407.89 395.05L406.84 396.01L407.12 397.40L405.89 396.70L404.66 397.40L404.94 396.01L403.89 395.05L405.31 394.89ZM410.34 393.60L410.93 394.89L412.34 395.05L411.29 396.01L411.57 397.40L410.34 396.70L409.11 397.40L409.39 396.01L408.34 395.05L409.75 394.89ZM414.79 393.60L415.38 394.89L416.79 395.05L415.74 396.01L416.02 397.40L414.79 396.70L413.56 397.40L413.84 396.01L412.79 395.05L414.20 394.89ZM419.25 393.60L419.83 394.89L421.25 395.05L420.19 396.01L420.48 397.40L419.25 396.70L418.01 397.40L418.30 396.01L417.25 395.05L418.66 394.89Z" fill="#111" stroke="#111" stroke-width="0.3"/>
<path d="M433.49 403.00L434.07 404.29L435.49 404.45L434.44 405.41L434.72 406.80L433.49 406.10L432.25 406.80L432.54 405.41L431.49 404.45L432.90 404.29ZM437.94 403.00L438.52 404.29L439.94 404.45L438.88 405.41L439.17 406.80L437.94 406.10L436.70 406.80L436.99 405.41L435.94 404.45L437.35 404.29ZM442.38 403.00L442.97 404.29L444.38 404.45L443.33 405.41L443.62 406.80L442.38 406.10L441.15 406.80L441.44 405.41L440.38 404.45L441.80 404.29ZM446.84 403.00L447.43 404.29L448.84 404.45L447.79 405.41L448.07 406.80L446.84 406.10L445.61 406.80L445.89 405.41L444.84 404.45L446.25 404.29Z" fill="#111" stroke="#111" stroke-width="0.3"/>
<path d="M461.07 404.60L461.66 405.89L463.07 406.05L462.02 407.01L462.31 408.40L461.07 407.70L459.84 408.40L460.12 407.01L459.07 406.05L460.49 405.89ZM465.52 404.60L466.11 405.89L467.52 406.05L466.47 407.01L466.75 408.40L465.52 407.70L464.29 408.40L464.57 407.01L463.52 406.05L464.94 405.89ZM469.97 404.60L470.56 405.89L471.97 406.05L470.92 407.01L471.20 408.40L469.97 407.70L468.74 408.40L469.02 407.01L467.97 406.05L469.38 405.89ZM474.43 404.60L475.01 405.89L476.43 406.05L475.38 407.01L475.66 408.40L474.43 407.70L473.19 408.40L473.48 407.01L472.43 406.05L473.84 405.89Z" fill="#111" stroke="#111" stroke-width="0.3"/>
<path d="M488.67 417.80L489.25 419.09L490.67 419.25L489.62 420.21L489.90 421.60L488.67 420.90L487.44 421.60L487.72 420.21L486.67 419.25L488.08 419.09ZM493.12 417.80L493.70 419.09L495.12 419.25L494.06 420.21L494.35 421.60L493.12 420.90L491.88 421.60L492.17 420.21L491.12 419.25L492.53 419.09ZM497.56 417.80L498.15 419.09L499.56 419.25L498.51 420.21L498.80 421.60L497.56 420.90L496.33 421.60L496.62 420.21L495.56 419.25L496.98 419.09ZM502.02 417.80L502.61 419.09L504.02 419.25L502.97 420.21L503.25 421.60L502.02 420.90L500.79 421.60L501.07 420.21L500.02 419.25L501.43 419.09Z" fill="#111" stroke="#111" stroke-width="0.3"/>
<path d="M177.9 478.6H192.1" stroke="#1b3f66" stroke-width="1.5"/>
<circle cx="184.80" cy="478.60" r="2.8" fill="#1d4f7f"/>
<text transform="translate(197.25 481.70) scale(0.9890 1)" font-size="10.8" fill="#1a1a1a" stroke="#1a1a1a" stroke-width="0.25">Purified</text>
<path d="M242.9 478.6H256.9" stroke="#e48b2c" stroke-width="1.5"/>
<rect x="247.40" y="476.20" width="4.8" height="4.8" fill="#f29400"/>
<text transform="translate(261.58 481.70) scale(0.9551 1)" font-size="10.8" fill="#1a1a1a" stroke="#1a1a1a" stroke-width="0.25">Plasma</text>
<path d="M305.8 478.6H320.3" stroke="#ab1942" stroke-width="1.5"/>
<path d="M313.10 475.90L315.50 480.70H310.70Z" fill="#c4173f"/>
<text transform="translate(325.88 481.80) scale(1.0094 1)" font-size="10.8" fill="#1a1a1a" stroke="#1a1a1a" stroke-width="0.25">Whole blood</text>
</svg>
</body></html>
